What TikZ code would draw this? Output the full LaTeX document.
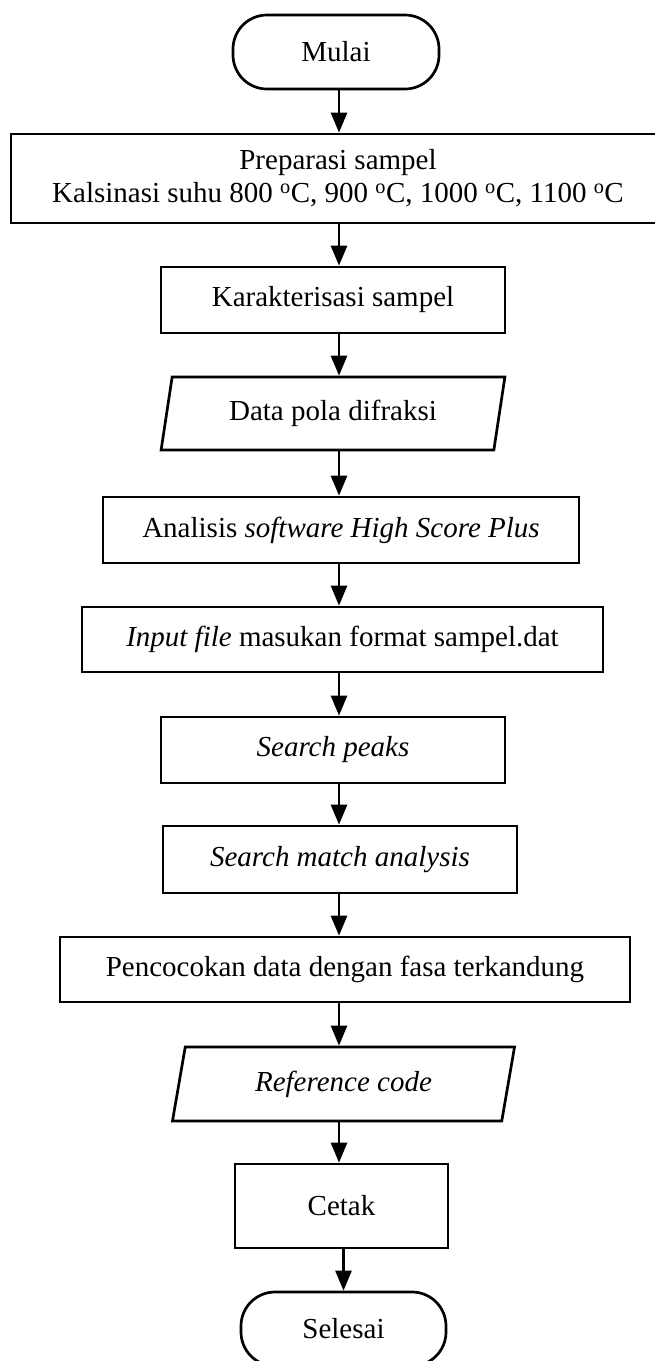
\documentclass[tikz,border=0pt]{standalone}
\usepackage{fontspec}
\setmainfont{Liberation Serif}
\usetikzlibrary{arrows.meta,shapes.geometric}
\begin{document}
\begin{tikzpicture}[x=1pt,y=1pt,
  box/.style={draw, line width=2.7pt, inner sep=0pt, align=center, font=\fontsize{29}{33}\selectfont},
  term/.style={box, rounded corners=34pt},
  io/.style={box, trapezium, trapezium left angle=75, trapezium right angle=105, trapezium stretches=true},
  arr/.style={line width=2.7pt, -{Triangle[length=20pt,width=16pt]}}]
\useasboundingbox (0,0) rectangle (654,-1361);
\coordinate (axis) at (339,0);
\node[term, minimum width=206pt, minimum height=74pt] (mulai) at (336,-52) {Mulai};
\node[box, minimum width=654pt, minimum height=89pt] (prep) at (338,-178.5) {Preparasi sampel\\Kalsinasi suhu 800 \textsuperscript{o}C, 900 \textsuperscript{o}C, 1000 \textsuperscript{o}C, 1100 \textsuperscript{o}C};
\node[box, minimum width=344pt, minimum height=66pt] (karak) at (333,-300) {Karakterisasi sampel};
\node[io, minimum width=344pt, minimum height=73pt] (data) at (333,-413.5) {Data pola difraksi};
\node[box, minimum width=476pt, minimum height=66pt] (anal) at (341,-530) {Analisis \textit{software High Score Plus}};
\node[box, minimum width=521pt, minimum height=65pt] (input) at (342.5,-639.5) {\textit{Input file} masukan format sampel.dat};
\node[box, minimum width=344pt, minimum height=66pt] (peaks) at (333,-750) {\textit{Search peaks}};
\node[box, minimum width=354pt, minimum height=67pt] (match) at (340,-859.5) {\textit{Search match analysis}};
\node[box, minimum width=570pt, minimum height=65pt] (cocok) at (345,-969.5) {Pencocokan data dengan fasa terkandung};
\node[io, minimum width=343pt, minimum height=74pt] (ref) at (343.5,-1084) {\textit{Reference code}};
\node[box, minimum width=213pt, minimum height=84pt] (cetak) at (341.5,-1206) {Cetak};
\node[term, minimum width=205pt, minimum height=74pt] (selesai) at (343.5,-1329) {Selesai};
\draw[arr] (mulai.south -| axis) -- (prep.north -| axis);
\draw[arr] (prep.south -| axis) -- (karak.north -| axis);
\draw[arr] (karak.south -| axis) -- (data.north -| axis);
\draw[arr] (data.south -| axis) -- (anal.north -| axis);
\draw[arr] (anal.south -| axis) -- (input.north -| axis);
\draw[arr] (input.south -| axis) -- (peaks.north -| axis);
\draw[arr] (peaks.south -| axis) -- (match.north -| axis);
\draw[arr] (match.south -| axis) -- (cocok.north -| axis);
\draw[arr] (cocok.south -| axis) -- (ref.north -| axis);
\draw[arr] (ref.south -| axis) -- (cetak.north -| axis);
\draw[arr] (cetak.south -| selesai.north) -- (selesai.north);
\end{tikzpicture}
\end{document}
